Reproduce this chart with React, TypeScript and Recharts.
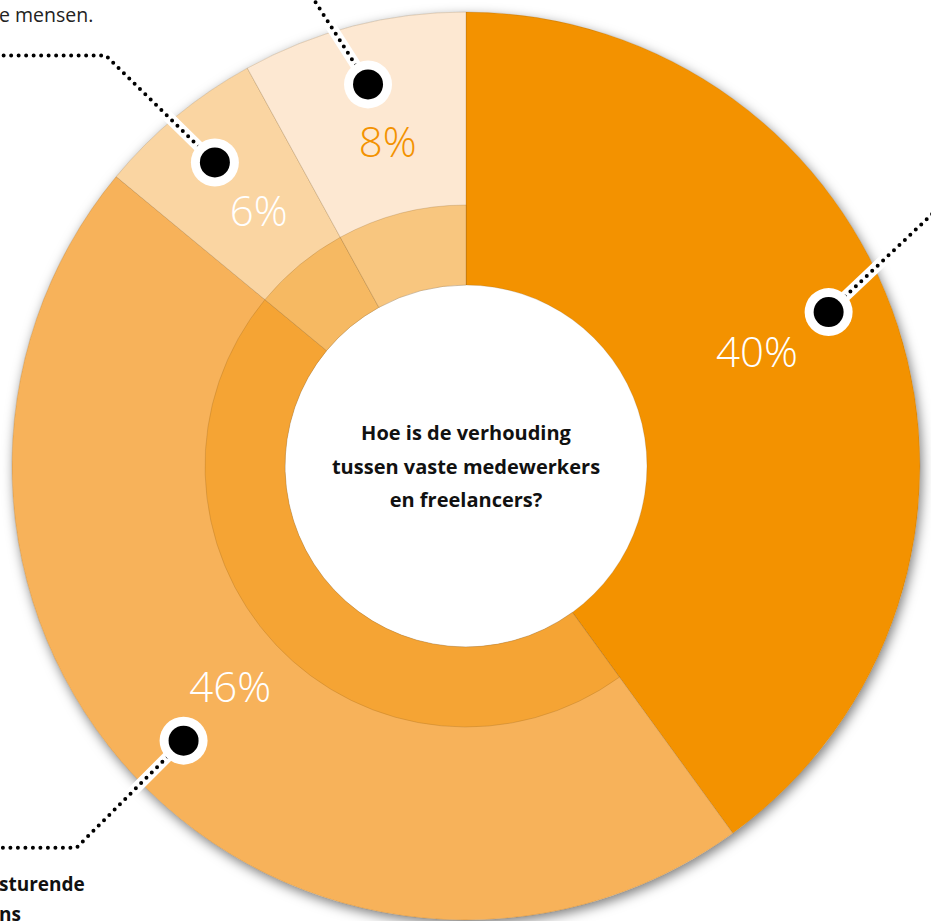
import { PieChart, Pie, Cell } from "recharts";

// share per category (percent), outer ring and inner ring use the same split
const categories = ["Categorie A", "Categorie B", "Categorie C", "Categorie D"];
const shares = [40, 46, 6, 8];

const outerColors = ["#F39200", "#F7B25A", "#FAD5A2", "#FDE8D2"];
const innerColors = ["transparent", "#F5A434", "#F6B962", "#F8C67F"];
const labelColors = ["#FFFFFF", "#FFFFFF", "#FFFFFF", "#F39200"];

// leader lines (offsets from the marker dot), small nudges for dots/labels
const dotShift = [5, 1, 0, 0];
const labelShift = [3.6, -0.3, -0.7, -0.9];
const labelDepth = [0.483, 0.516, 0.546, 0.564];
const leaders: number[][][] = [
  [[112, -106]],
  [[-107, 107], [-200, 107]],
  [[-109, -107], [-220, -107]],
  [[-60, -94]],
];

const data = categories.map((name, i) => ({ name, value: shares[i] }));
const RAD = Math.PI / 180;

const renderLabel = (props: any) => {
  const { cx, cy, midAngle, innerRadius, outerRadius, index } = props;
  const band = outerRadius - innerRadius;
  const la = (midAngle + labelShift[index]) * RAD;
  const lr = innerRadius + band * labelDepth[index];
  const lx = cx + lr * Math.cos(la);
  const ly = cy - lr * Math.sin(la);
  const da = (midAngle + dotShift[index]) * RAD;
  const dr = innerRadius + band * 0.78;
  const dx = cx + dr * Math.cos(da);
  const dy = cy - dr * Math.sin(da);
  const pts = [[dx, dy], ...leaders[index].map(([ox, oy]) => [dx + ox, dy + oy])];
  const d = "M" + pts.map((p) => p.join(",")).join(" L");
  return (
    <g key={`lbl-${index}`}>
      <path d={d} stroke="#fff" strokeWidth={11} fill="none" strokeLinejoin="round" />
      <path
        d={d}
        stroke="#000"
        strokeWidth={4}
        strokeDasharray="0 7.5"
        strokeLinecap="round"
        fill="none"
      />
      <circle cx={dx} cy={dy} r={24} fill="#fff" />
      <circle cx={dx} cy={dy} r={15} fill="#000" />
      <text
        x={lx}
        y={ly}
        textAnchor="middle"
        dominantBaseline="central"
        fill={labelColors[index]}
        fontFamily="'Open Sans', Lato, sans-serif"
        fontWeight={300}
        fontSize={42}
      >
        {`${shares[index]}%`}
      </text>
    </g>
  );
};

export default function App() {
  return (
    <div
      style={{
        position: "absolute",
        left: 0,
        top: 0,
        width: 931,
        height: 921,
        overflow: "hidden",
        background: "#fff",
        fontFamily: "'Open Sans', Lato, sans-serif",
      }}
    >
      <PieChart width={931} height={921} margin={{ top: 0, right: 0, bottom: 0, left: 0 }}>
        <Pie
          data={[{ name: "bg", value: 1 }]}
          dataKey="value"
          cx={466}
          cy={466}
          innerRadius={0}
          outerRadius={454}
          stroke="none"
          isAnimationActive={false}
        >
          <Cell fill="#fff" style={{ filter: "drop-shadow(2px 4px 6px rgba(0,0,0,0.5))" }} />
        </Pie>
        <Pie
          data={data}
          dataKey="value"
          cx={466}
          cy={466}
          startAngle={90}
          endAngle={-270}
          innerRadius={181}
          outerRadius={454}
          stroke="rgba(120,80,30,0.3)"
          strokeWidth={0.7}
          label={renderLabel}
          labelLine={false}
          isAnimationActive={false}
        >
          {data.map((_, i) => (
            <Cell key={`o-${i}`} fill={outerColors[i]} />
          ))}
        </Pie>
        <Pie
          data={data}
          dataKey="value"
          cx={466}
          cy={466}
          startAngle={90}
          endAngle={-270}
          innerRadius={181}
          outerRadius={261}
          strokeWidth={0.7}
          isAnimationActive={false}
        >
          {data.map((_, i) => (
            <Cell
              key={`i-${i}`}
              fill={innerColors[i]}
              stroke={i === 0 ? "none" : "rgba(120,80,30,0.3)"}
            />
          ))}
        </Pie>
      </PieChart>

      <div
        style={{
          position: "absolute",
          left: 266,
          top: 416,
          width: 400,
          textAlign: "center",
          fontWeight: 700,
          fontSize: 20,
          lineHeight: "33.5px",
          color: "#111",
        }}
      >
        Hoe is de verhouding
        <br />
        tussen vaste medewerkers
        <br />
        en freelancers?
      </div>

      <div style={{ position: "absolute", left: -1, top: 1, fontSize: 19.5, color: "#222" }}>
        e mensen.
      </div>
      <div
        style={{ position: "absolute", left: -1, top: 871, fontSize: 19, fontWeight: 700, color: "#111" }}
      >
        sturende
      </div>
      <div
        style={{ position: "absolute", left: -1, top: 901, fontSize: 19, fontWeight: 700, color: "#111" }}
      >
        ns
      </div>
    </div>
  );
}
